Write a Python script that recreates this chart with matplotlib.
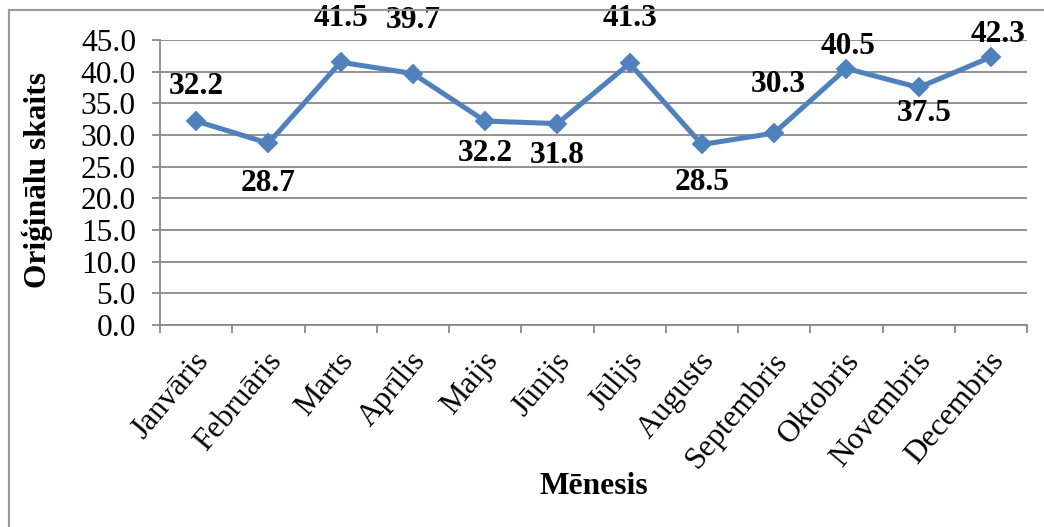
import matplotlib
matplotlib.use("Agg")
import matplotlib.pyplot as plt
from matplotlib.patches import Rectangle
from matplotlib.transforms import ScaledTranslation

# Monthly counts of originals
months = ["Janvāris", "Februāris", "Marts", "Aprīlis", "Maijs", "Jūnijs",
          "Jūlijs", "Augusts", "Septembris", "Oktobris", "Novembris", "Decembris"]
counts = [32.2, 28.7, 41.5, 39.7, 32.2, 31.8, 41.3, 28.5, 30.3, 40.5, 37.5, 42.3]
y_ticks = [0, 5, 10, 15, 20, 25, 30, 35, 40, 45]

x_title = "Mēnesis"
y_title = "Oriģinālu skaits"

# data-label placement: (dx, dy) in pixels from the marker, positive dy = up
label_offsets = [(0, 35), (0, -40), (0, 44), (0, 53), (0, -32), (0, -32),
                 (0, 45), (0, -38), (4, 49), (2, 22), (6, -26), (7, 23)]

DPI = 174
W, H = 1044, 527
PX = 72.0 / DPI  # points per pixel

plt.rcParams["font.family"] = ["Liberation Serif", "DejaVu Serif"]
plt.rcParams["font.size"] = 13

LINE_BLUE = "#4F81BD"
GRID_GRAY = "#898989"
FS = 13

fig = plt.figure(figsize=(W / DPI, H / DPI), dpi=DPI)
fig.patch.set_facecolor("white")

# outer chart border
fig.add_artist(Rectangle((9 / W, -0.2), 1.5, 1 - 10 / H + 0.2,
                         transform=fig.transFigure, fill=False,
                         ec="#999999", lw=0.9))

left, right, top, bottom = 160, 1027, 40, 325
ax = fig.add_axes([left / W, 1 - bottom / H, (right - left) / W, (bottom - top) / H])

x = list(range(len(months)))
ax.plot(x, counts, color=LINE_BLUE, lw=2.1, marker="D", ms=5.2,
        mfc=LINE_BLUE, mec=LINE_BLUE, mew=0.8, clip_on=False, zorder=3)

ax.set_xlim(-0.5, len(months) - 0.5)
ax.set_ylim(0, 45)
ax.set_yticks(y_ticks)
ax.set_yticklabels([f"{v:.1f}" for v in y_ticks])
ax.yaxis.grid(True, color=GRID_GRAY, lw=0.75)
ax.set_axisbelow(True)

for s in ("top", "right"):
    ax.spines[s].set_visible(False)
for s in ("left", "bottom"):
    ax.spines[s].set_color(GRID_GRAY)
    ax.spines[s].set_linewidth(0.75)

ax.tick_params(axis="y", direction="out", length=8 * PX, width=0.75,
               color=GRID_GRAY, pad=16 * PX, labelsize=FS)

# category boundary ticks
ax.set_xticks([i - 0.5 for i in range(len(months) + 1)], minor=True)
ax.tick_params(axis="x", which="minor", direction="out", length=8 * PX,
               width=0.75, color=GRID_GRAY)
ax.set_xticks(x)
ax.set_xticklabels(months, rotation=50, ha="right", va="center",
                   rotation_mode="anchor")
ax.tick_params(axis="x", which="major", length=0, pad=31 * PX, labelsize=FS)
shift = ScaledTranslation(8 / DPI, 0, fig.dpi_scale_trans)
for lab in ax.get_xticklabels():
    lab.set_transform(lab.get_transform() + shift)

for xi, v, (dx, dy) in zip(x, counts, label_offsets):
    ax.annotate(f"{v:.1f}", (xi, v), xytext=(dx * PX, dy * PX),
                textcoords="offset points", ha="center", va="center",
                fontsize=FS, fontweight="bold", annotation_clip=False)

fig.text(594 / W, 1 - 487 / H, x_title, ha="center", va="center",
         fontsize=FS, fontweight="bold")
fig.text(37 / W, 1 - 180 / H, y_title, ha="center", va="center",
         rotation=90, fontsize=FS, fontweight="bold")

fig.savefig("out.png", dpi=DPI, facecolor="white")
